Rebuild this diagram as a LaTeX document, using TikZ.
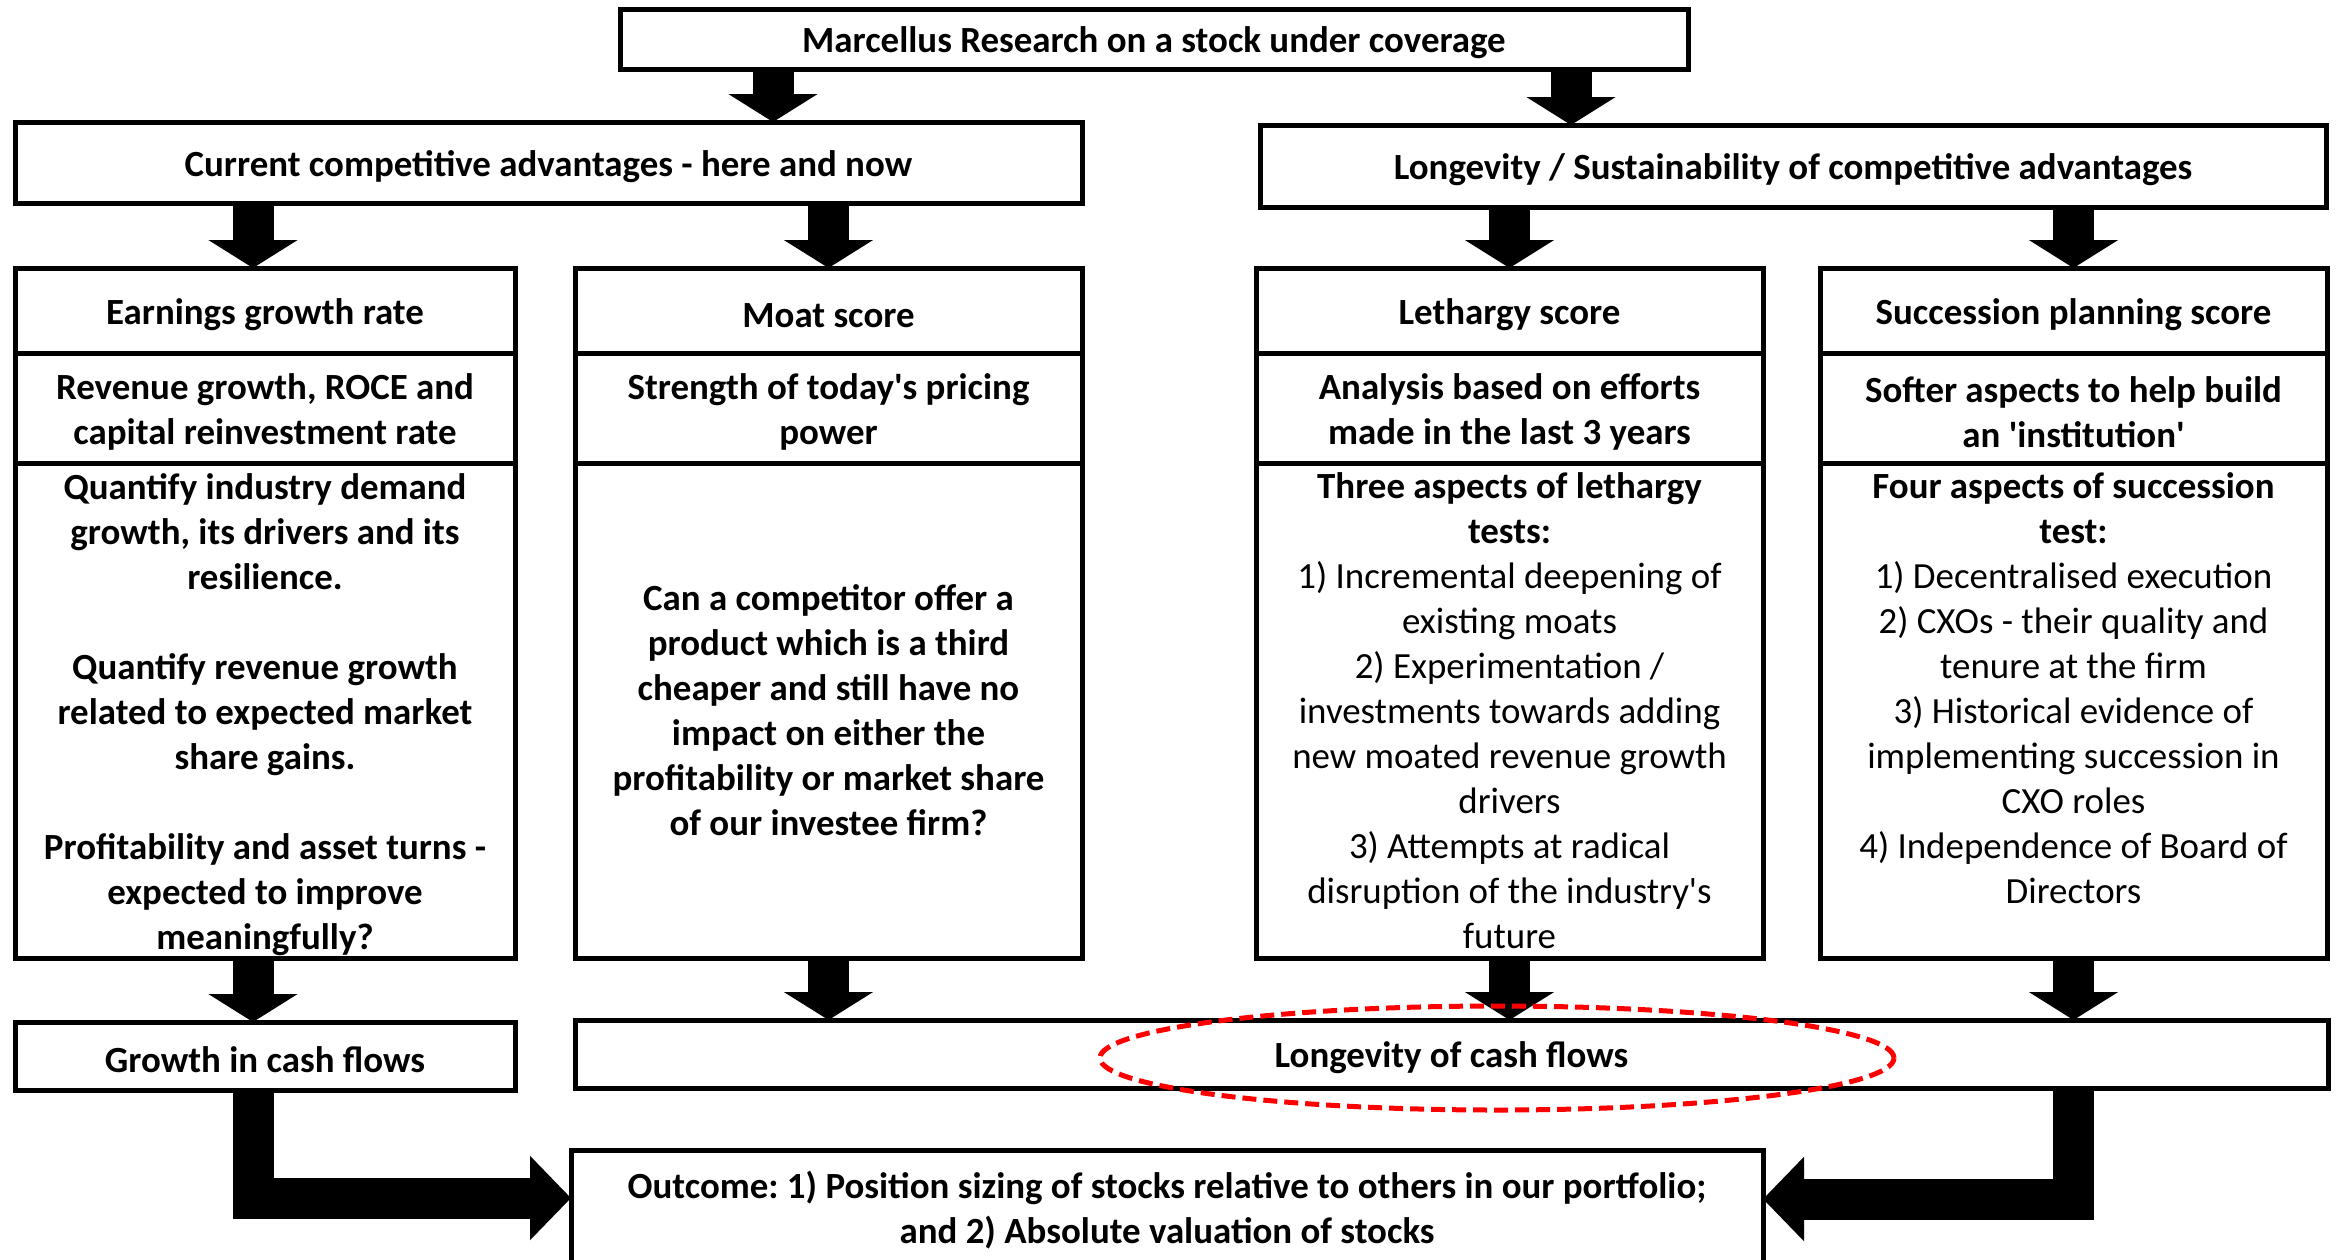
\documentclass[tikz,border=0pt]{standalone}
\usepackage{fontspec}
\setmainfont{Carlito}
\usepackage{tikz}
\usetikzlibrary{positioning}
\usetikzlibrary{arrows.meta}
\frenchspacing
\newcommand{\firstrule}{\rule{0pt}{9.5pt}}

\begin{document}
\begin{tikzpicture}[x=0.1mm, y=-0.1mm, node distance={0mm},
    box/.style = {draw, line width=0.5mm, outer sep=0pt, inner sep=0pt, align=center,
        font=\fontsize{10.5pt}{12.8pt}\selectfont\bfseries,
        execute at begin node={\firstrule}},
    head/.style = {box, minimum height=8.5mm},
    sub/.style = {box, minimum height=11mm},
    body/.style = {box, minimum height=49.5mm},
    thin/.style = {font=\fontsize{10.5pt}{12.8pt}\selectfont},
    blk/.style = {line width=4.1mm, -{Triangle[length=2.8mm, width=8.8mm]}},
    elbow/.style = {line width=4.1mm, line join=miter, -{Triangle[length=4.1mm, width=8.2mm]}},
    ring/.style = {red, line width=0.5mm, dash pattern=on 1.4mm off 0.7mm}]

    \useasboundingbox (0,0) rectangle (2338,1259);

    \node[box, minimum width=106.8mm, minimum height=6mm] (top) at (1154,39) {Marcellus Research on a stock under coverage};
    \node[box, minimum width=106.7mm, minimum height=8.1mm] (cur) at (548.5,162.5) {Current competitive advantages - here and now};
    \node[box, minimum width=106.6mm, minimum height=8.2mm] (lon) at (1793,166) {Longevity / Sustainability of competitive advantages};

    % earnings column
    \node[head, minimum width=50mm] (earnT) at (265,310.5) {Earnings growth rate};
    \node[sub, minimum width=50mm, below=of earnT] (earnS) {\firstrule Revenue growth, ROCE and\\capital reinvestment rate};
    \node[body, minimum width=50mm, below=of earnS] (earnB) {\firstrule Quantify industry demand\\growth, its drivers and its\\resilience.\\[12.8pt]Quantify revenue growth\\related to expected market\\share gains.\\[12.8pt]Profitability and asset turns -\\expected to improve\\meaningfully?};

    % moat column
    \node[head, minimum width=50.7mm] (moatT) at (828.5,310.5) {Moat score};
    \node[sub, minimum width=50.7mm, below=of moatT] (moatS) {\firstrule Strength of today\textquotesingle s pricing\\power};
    \node[body, minimum width=50.7mm, below=of moatS] (moatB) {Can a competitor offer a\\product which is a third\\cheaper and still have no\\impact on either the\\profitability or market share\\of our investee firm?};

    % lethargy column
    \node[head, minimum width=50.7mm] (lethT) at (1509.5,310.5) {Lethargy score};
    \node[sub, minimum width=50.7mm, below=of lethT] (lethS) {\firstrule Analysis based on efforts\\made in the last 3 years};
    \node[body, thin, minimum width=50.7mm, below=of lethS] (lethB) {\textbf{Three aspects of lethargy}\\\textbf{tests:}\\1) Incremental deepening of\\existing moats\\2) Experimentation /\\investments towards adding\\new moated revenue growth\\drivers\\3) Attempts at radical\\disruption of the industry\textquotesingle s\\future};

    % succession column
    \node[head, minimum width=50.7mm] (succT) at (2073.5,310.5) {Succession planning score};
    \node[sub, minimum width=50.7mm, below=of succT] (succS) {\firstrule Softer aspects to help build\\an \textquotesingle institution\textquotesingle};
    \node[body, thin, minimum width=50.7mm, below=of succS] (succB) {\textbf{Four aspects of succession}\\\textbf{test:}\\1) Decentralised execution\\2) CXOs - their quality and\\tenure at the firm\\3) Historical evidence of\\implementing succession in\\CXO roles\\4) Independence of Board of\\Directors\\\mbox{}};

    \node[box, minimum width=50mm, minimum height=6.8mm] (growth) at (265,1056) {Growth in cash flows};
    \node[box, minimum width=175.3mm, minimum height=6.8mm] (lcf) at (1451.5,1054) {Longevity of cash flows};
    \node[box, minimum width=119.2mm, minimum height=11.4mm] (outcome) at (1167,1207) {\firstrule Outcome: 1) Position sizing of stocks relative to others in our portfolio;\\and 2) Absolute valuation of stocks};

    \coordinate (t1) at ([xshift=15.3mm]top.south west);
    \coordinate (t2) at ([xshift=95.1mm]top.south west);
    \coordinate (c1) at ([xshift=-1.2mm]earnT.north);

    \draw[blk] (t1) -- (t1 |- cur.north);
    \draw[blk] (t2) -- (t2 |- lon.north);
    \draw[blk] (cur.south -| c1) -- (c1);
    \draw[blk] (cur.south -| moatT.north) -- (moatT.north);
    \draw[blk] (lon.south -| lethT.north) -- (lethT.north);
    \draw[blk] (lon.south -| succT.north) -- (succT.north);

    \draw[blk] (earnB.south -| c1) -- (growth.north -| c1);
    \draw[blk] (moatB.south) -- (moatB.south |- lcf.north);
    \draw[blk] (lethB.south) -- (lethB.south |- lcf.north);
    \draw[blk] (succB.south) -- (succB.south |- lcf.north);

    \draw[elbow] (growth.south -| c1) |- ([yshift=0.9mm]outcome.west);
    \draw[elbow] (lcf.south -| succB.south) |- ([yshift=0.8mm]outcome.east);

    \draw[ring] (1497,1058) ellipse [x radius=39.7mm, y radius=5.2mm];

\end{tikzpicture}
\end{document}
